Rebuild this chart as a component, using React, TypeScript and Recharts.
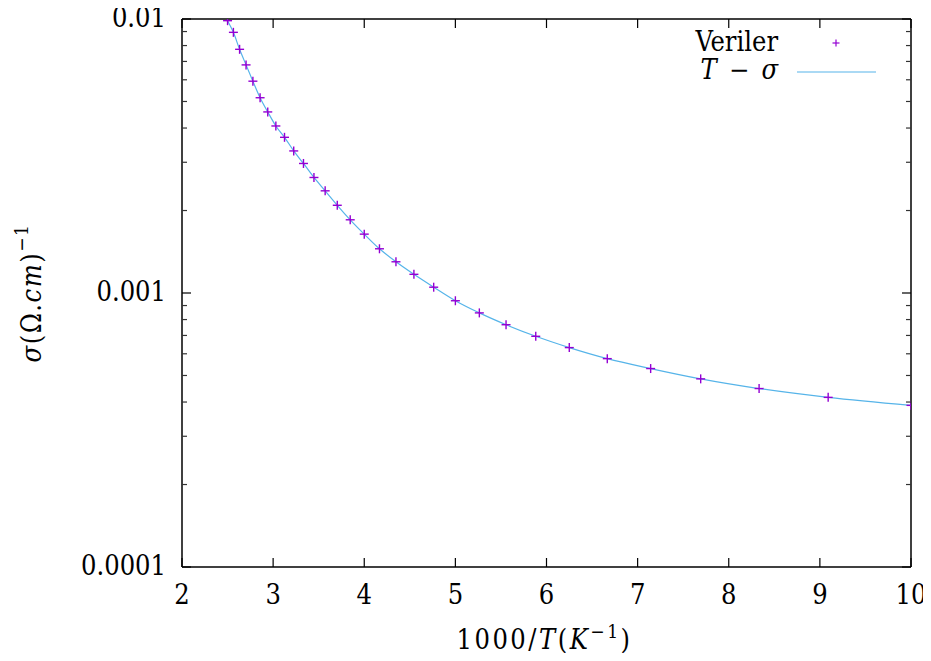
import React from 'react';
import { ComposedChart, Line, Scatter, XAxis, YAxis, Legend, Label } from 'recharts';

// 1000/T values (K^-1)
const invT = [
  2.5, 2.564, 2.632, 2.703, 2.778, 2.857, 2.941, 3.03, 3.125, 3.226, 3.333,
  3.448, 3.571, 3.704, 3.846, 4.0, 4.167, 4.348, 4.545, 4.762, 5.0, 5.263,
  5.556, 5.882, 6.25, 6.667, 7.143, 7.692, 8.333, 9.091, 10.0,
];
// conductivity sigma (Ohm.cm)^-1
const sigma = [
  0.00986, 0.00894, 0.00775, 0.0068, 0.00593, 0.00516, 0.00458, 0.00407,
  0.0037, 0.0033, 0.00297, 0.00264, 0.00236, 0.00209, 0.00185, 0.00164,
  0.00145, 0.0013, 0.00117, 0.00105, 0.000937, 0.000846, 0.000766, 0.000695,
  0.000632, 0.000576, 0.00053, 0.000486, 0.000448, 0.000416, 0.000389,
];

const xTicks = [2, 3, 4, 5, 6, 7, 8, 9, 10];
const xTickLabels = ['2', '3', '4', '5', '6', '7', '8', '9', '10'];
const yMajorTicks = [0.0001, 0.001, 0.01];
const yMajorLabels = ['0.0001', '0.001', '0.01'];
const yMinorTicks = [
  0.0002, 0.0003, 0.0004, 0.0005, 0.0006, 0.0007, 0.0008, 0.0009,
  0.002, 0.003, 0.004, 0.005, 0.006, 0.007, 0.008, 0.009,
];
const seriesNames = ['Veriler', 'T − σ'];

const points = invT.map((x, i) => ({ x, sigma: sigma[i] }));
const yAllTicks = [...yMajorTicks, ...yMinorTicks].sort((a, b) => a - b);

const FONT = "'DejaVu Serif Condensed', 'DejaVu Serif', serif";
const FS = 27;
const MARK = '#9400d3';
const LINE = '#56b4e9';
const TS: React.CSSProperties = { fontFamily: FONT, fontSize: FS, fill: '#000' };

const LeftTick = (props: any) => {
  const { x, y, payload } = props;
  const idx = yMajorTicks.indexOf(payload.value);
  const major = idx >= 0;
  return (
    <g>
      <line x1={x} y1={y} x2={x + (major ? 9 : 5)} y2={y} stroke={major ? '#000' : '#333'} strokeWidth={1.2} />
      {major && (
        <text x={x - 16} y={y + 8} textAnchor="end" style={TS}>
          {yMajorLabels[idx]}
        </text>
      )}
    </g>
  );
};

const RightTick = (props: any) => {
  const { x, y, payload } = props;
  const major = yMajorTicks.indexOf(payload.value) >= 0;
  return <line x1={x} y1={y} x2={x - (major ? 9 : 5)} y2={y} stroke={major ? '#000' : '#333'} strokeWidth={1.2} />;
};

const BottomTick = (props: any) => {
  const { x, y, payload } = props;
  const idx = xTicks.indexOf(payload.value);
  return (
    <g>
      <line x1={x} y1={y} x2={x} y2={y - 9} stroke="#000" strokeWidth={1.2} />
      <text x={x} y={y + 37} textAnchor="middle" style={TS}>
        {xTickLabels[idx]}
      </text>
    </g>
  );
};

const TopTick = (props: any) => {
  const { x, y } = props;
  return <line x1={x} y1={y} x2={x} y2={y + 9} stroke="#000" strokeWidth={1.2} />;
};

const PlusShape = (props: any) => {
  const { cx, cy } = props;
  const h = 4.5;
  return (
    <g>
      <line x1={cx - h} y1={cy} x2={cx + h} y2={cy} stroke={MARK} strokeWidth={1.4} />
      <line x1={cx} y1={cy - h} x2={cx} y2={cy + h} stroke={MARK} strokeWidth={1.4} />
    </g>
  );
};

const XTitle = (props: any) => {
  const vb = props.viewBox || { x: 182, y: 567, width: 729 };
  const cx = vb.x + vb.width / 2 - 2;
  return (
    <text x={cx} y={vb.y + 82} textAnchor="middle" style={{ ...TS, letterSpacing: 2.5 }}>
      <tspan>1000/</tspan>
      <tspan fontStyle="italic">T</tspan>
      <tspan>(</tspan>
      <tspan fontStyle="italic">K</tspan>
      <tspan fontSize={19} dy={-11}>−1</tspan>
      <tspan dy={11}>)</tspan>
    </text>
  );
};

const YTitle = (props: any) => {
  const vb = props.viewBox || { x: 0, y: 19, height: 548 };
  const cy = vb.y + vb.height / 2;
  const cx = 41;
  return (
    <text x={cx} y={cy} transform={`rotate(-90, ${cx}, ${cy})`} textAnchor="middle" style={{ ...TS, letterSpacing: 1.5 }}>
      <tspan fontStyle="italic">σ</tspan>
      <tspan>(Ω.</tspan>
      <tspan fontStyle="italic">cm</tspan>
      <tspan>)</tspan>
      <tspan fontSize={19} dy={-13}>−1</tspan>
    </text>
  );
};

const LegendBox = () => (
  <svg width={300} height={90} style={{ display: 'block', overflow: 'visible' }}>
    <text x={170} y={43} textAnchor="end" style={TS}>
      {seriesNames[0]}
    </text>
    <line x1={228 - 3.5} y1={35} x2={228 + 3.5} y2={35} stroke={MARK} strokeWidth={1.2} />
    <line x1={228} y1={35 - 3.5} x2={228} y2={35 + 3.5} stroke={MARK} strokeWidth={1.2} />
    <text x={170} y={71} textAnchor="end" style={TS}>
      <tspan fontStyle="italic">T</tspan>
      <tspan>{'\u2002−\u2002'}</tspan>
      <tspan fontStyle="italic">σ</tspan>
    </text>
    <line x1={189} y1={64} x2={268} y2={64} stroke={LINE} strokeWidth={1.2} />
  </svg>
);

export default function App() {
  return (
    <div
      style={{
        width: 931,
        height: 661,
        margin: -8,
        overflow: 'hidden',
        background: '#fff',
        fontFamily: FONT,
      }}
    >
      <ComposedChart
        width={931}
        height={661}
        data={points}
        margin={{ top: 0, right: 0, bottom: 0, left: 0 }}
        style={{ display: 'block' }}
      >
        <XAxis
          xAxisId="b"
          dataKey="x"
          type="number"
          domain={[2, 10]}
          allowDataOverflow
          ticks={xTicks}
          interval={0}
          height={94}
          tickSize={0}
          tickMargin={0}
          tickLine={false}
          tick={<BottomTick />}
          axisLine={{ stroke: '#000', strokeWidth: 1.5 }}
        >
          <Label content={<XTitle />} />
        </XAxis>
        <XAxis
          xAxisId="t"
          orientation="top"
          dataKey="x"
          type="number"
          domain={[2, 10]}
          allowDataOverflow
          ticks={xTicks}
          interval={0}
          height={19}
          tickSize={0}
          tickMargin={0}
          tickLine={false}
          tick={<TopTick />}
          axisLine={{ stroke: '#000', strokeWidth: 1.5 }}
        />
        <YAxis
          yAxisId="l"
          dataKey="sigma"
          type="number"
          scale="log"
          domain={[0.0001, 0.01]}
          allowDataOverflow
          ticks={yAllTicks}
          interval={0}
          width={182}
          tickSize={0}
          tickMargin={0}
          tickLine={false}
          tick={<LeftTick />}
          axisLine={{ stroke: '#000', strokeWidth: 1.5 }}
        >
          <Label content={<YTitle />} />
        </YAxis>
        <YAxis
          yAxisId="r"
          orientation="right"
          dataKey="sigma"
          type="number"
          scale="log"
          domain={[0.0001, 0.01]}
          allowDataOverflow
          ticks={yAllTicks}
          interval={0}
          width={20}
          tickSize={0}
          tickMargin={0}
          tickLine={false}
          tick={<RightTick />}
          axisLine={{ stroke: '#000', strokeWidth: 1.5 }}
        />
        <Line
          xAxisId="b"
          yAxisId="l"
          dataKey="sigma"
          name={seriesNames[1]}
          type="monotone"
          stroke={LINE}
          strokeWidth={1.2}
          dot={false}
          activeDot={false}
          isAnimationActive={false}
        />
        <Scatter
          xAxisId="b"
          yAxisId="l"
          dataKey="sigma"
          name={seriesNames[0]}
          fill={MARK}
          shape={<PlusShape />}
          isAnimationActive={false}
        />
        <Legend
          layout="horizontal"
          verticalAlign="middle"
          align="center"
          content={() => <LegendBox />}
          wrapperStyle={{ position: 'absolute', left: 608, top: 8, width: 300, height: 90 }}
        />
      </ComposedChart>
    </div>
  );
}
